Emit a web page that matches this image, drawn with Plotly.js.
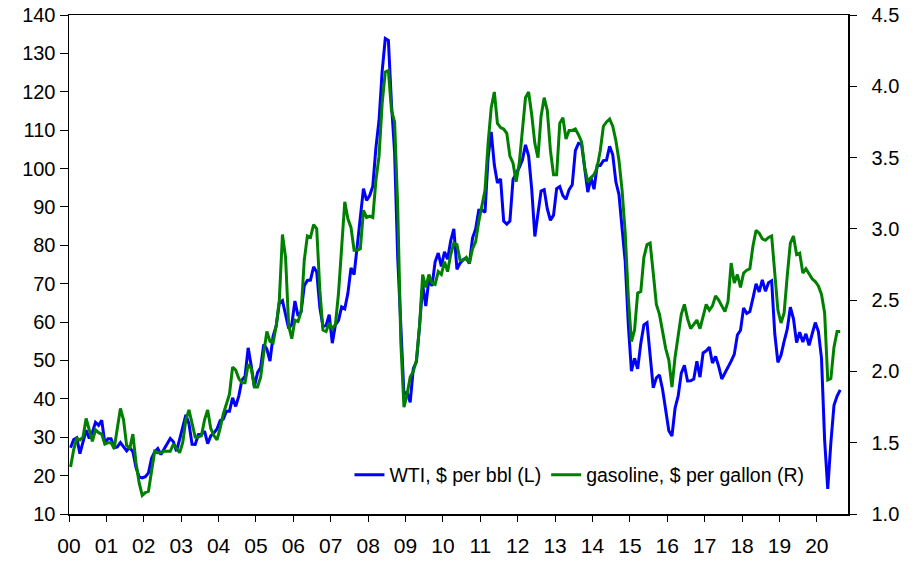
<!DOCTYPE html>
<html>
<head>
<meta charset="utf-8">
<script src="https://cdn.plot.ly/plotly-3.0.1.min.js"></script>
<style>
  html, body { margin: 0; padding: 0; background: #ffffff; }
  #chart { width: 921px; height: 562px; }
</style>
</head>
<body>
<div id="chart"></div>
<script>
// Monthly averages, Jan 2000 - Aug 2020 (one row per year)
const wti = [
  27.26, 29.37, 29.84, 25.72, 28.79, 31.82, 29.70, 31.26, 33.88, 33.11, 34.42, 28.44,
  29.59, 29.61, 27.25, 27.49, 28.63, 27.60, 26.43, 27.37, 26.20, 22.17, 19.64, 19.39,
  19.72, 20.72, 24.53, 26.18, 27.04, 25.52, 26.97, 28.39, 29.66, 28.84, 26.35, 29.46,
  32.95, 35.83, 33.51, 28.17, 28.11, 30.66, 30.75, 31.57, 28.31, 30.34, 31.11, 32.13,
  34.31, 34.69, 36.74, 36.75, 40.28, 38.03, 40.78, 44.90, 45.94, 53.28, 48.47, 43.15,
  46.84, 48.15, 54.19, 52.98, 49.83, 56.35, 59.00, 64.99, 65.59, 62.26, 58.32, 59.41,
  65.49, 61.63, 62.69, 69.44, 70.84, 70.95, 74.41, 73.04, 63.80, 58.89, 59.08, 61.96,
  54.51, 59.28, 60.44, 63.98, 63.46, 67.49, 74.12, 72.36, 79.92, 85.80, 94.77, 91.69,
  92.97, 95.39, 105.45, 112.58, 125.40, 133.88, 133.37, 116.67, 104.11, 76.61, 57.31, 41.12,
  41.71, 39.09, 47.94, 49.65, 59.03, 69.64, 64.15, 71.05, 69.41, 75.72, 77.99, 74.47,
  78.33, 76.39, 81.20, 84.29, 73.74, 75.34, 76.32, 76.60, 75.24, 81.89, 84.25, 89.15,
  89.17, 88.58, 102.86, 109.53, 100.90, 96.26, 97.30, 86.33, 85.52, 86.32, 97.16, 98.56,
  100.27, 102.20, 106.16, 103.32, 94.66, 82.30, 87.90, 94.13, 94.51, 89.49, 86.53, 87.86,
  94.76, 95.31, 92.94, 92.02, 94.51, 95.77, 104.67, 106.57, 106.29, 100.54, 93.86, 97.63,
  94.62, 100.82, 100.80, 102.07, 102.18, 105.79, 103.59, 96.54, 93.21, 84.40, 75.79, 59.29,
  47.22, 50.58, 47.82, 54.45, 59.27, 59.82, 50.90, 42.87, 45.48, 46.22, 42.44, 37.19,
  31.68, 30.32, 37.55, 40.75, 46.71, 48.76, 44.65, 44.72, 45.18, 49.78, 45.66, 51.97,
  52.50, 53.47, 49.33, 51.06, 48.48, 45.18, 46.63, 48.04, 49.82, 51.58, 56.64, 57.88,
  63.70, 62.23, 62.73, 66.25, 69.98, 67.87, 70.98, 68.06, 70.23, 70.75, 56.96, 49.52,
  51.38, 54.95, 58.15, 63.86, 60.83, 54.66, 57.35, 54.81, 56.95, 53.96, 57.03, 59.88,
  57.52, 50.54, 29.21, 16.55, 28.56, 38.31, 40.71, 42.34
];

const gasoline = [
  1.33, 1.45, 1.53, 1.52, 1.54, 1.67, 1.59, 1.51, 1.59, 1.57, 1.56, 1.49,
  1.50, 1.50, 1.46, 1.60, 1.74, 1.66, 1.48, 1.46, 1.56, 1.36, 1.22, 1.13,
  1.15, 1.16, 1.30, 1.44, 1.43, 1.43, 1.44, 1.44, 1.44, 1.49, 1.46, 1.43,
  1.50, 1.66, 1.73, 1.63, 1.54, 1.54, 1.55, 1.66, 1.73, 1.60, 1.55, 1.52,
  1.60, 1.70, 1.78, 1.84, 2.03, 2.01, 1.95, 1.92, 1.92, 2.05, 2.02, 1.89,
  1.89, 1.96, 2.13, 2.28, 2.21, 2.20, 2.32, 2.50, 2.96, 2.80, 2.32, 2.23,
  2.36, 2.35, 2.42, 2.78, 2.95, 2.94, 3.03, 3.00, 2.57, 2.29, 2.28, 2.34,
  2.30, 2.33, 2.55, 2.85, 3.19, 3.07, 3.01, 2.85, 2.85, 2.86, 3.13, 3.08,
  3.09, 3.08, 3.34, 3.51, 3.88, 4.10, 4.11, 3.83, 3.75, 3.15, 2.20, 1.75,
  1.84, 1.96, 2.00, 2.08, 2.32, 2.68, 2.59, 2.68, 2.62, 2.61, 2.70, 2.68,
  2.77, 2.70, 2.82, 2.90, 2.89, 2.78, 2.78, 2.80, 2.76, 2.86, 2.91, 3.05,
  3.15, 3.27, 3.60, 3.85, 3.96, 3.74, 3.71, 3.70, 3.67, 3.51, 3.46, 3.33,
  3.46, 3.72, 3.92, 3.96, 3.80, 3.60, 3.50, 3.79, 3.92, 3.83, 3.55, 3.38,
  3.38, 3.74, 3.78, 3.63, 3.69, 3.69, 3.70, 3.66, 3.61, 3.43, 3.33, 3.36,
  3.38, 3.43, 3.55, 3.72, 3.75, 3.77, 3.72, 3.62, 3.48, 3.27, 2.97, 2.52,
  2.21, 2.29, 2.55, 2.56, 2.80, 2.89, 2.90, 2.69, 2.47, 2.40, 2.27, 2.16,
  2.08, 1.89, 2.10, 2.25, 2.40, 2.47, 2.37, 2.30, 2.33, 2.36, 2.30, 2.39,
  2.47, 2.43, 2.46, 2.53, 2.50, 2.46, 2.42, 2.49, 2.76, 2.62, 2.68, 2.59,
  2.69, 2.71, 2.72, 2.88, 2.99, 2.97, 2.93, 2.92, 2.94, 2.95, 2.69, 2.43,
  2.34, 2.41, 2.67, 2.90, 2.95, 2.82, 2.83, 2.69, 2.72, 2.68, 2.65, 2.63,
  2.60, 2.54, 2.41, 1.94, 1.95, 2.17, 2.28, 2.28
];

const yearLabels = ['00','01','02','03','04','05','06','07','08','09','10',
                    '11','12','13','14','15','16','17','18','19','20'];

// Category-style month axis: each month sits in the middle of its slot,
// year ticks fall on January boundaries.
const monthSlots = 250;
const xs = wti.map((_, i) => i + 0.5);
const tickPos = yearLabels.map((_, i) => i * 12);

const baseFont = { family: 'Arial, "Liberation Sans", sans-serif', size: 20, color: '#000000' };

const traces = [
  {
    x: xs, y: wti, type: 'scatter', mode: 'lines',
    name: 'WTI, $ per bbl (L)',
    line: { color: '#0000ff', width: 3 },
    yaxis: 'y'
  },
  {
    x: xs, y: gasoline, type: 'scatter', mode: 'lines',
    name: 'gasoline, $ per gallon (R)',
    line: { color: '#008000', width: 3 },
    yaxis: 'y2'
  }
];

const layout = {
  width: 921, height: 562,
  margin: { l: 69, r: 73, t: 15, b: 48, pad: 0 },
  paper_bgcolor: '#ffffff',
  plot_bgcolor: '#ffffff',
  font: baseFont,
  showlegend: true,
  legend: {
    orientation: 'h',
    x: 0.36, xanchor: 'left',
    y: 0.078, yanchor: 'middle',
    bgcolor: 'rgba(0,0,0,0)',
    borderwidth: 0,
    font: { family: baseFont.family, size: 19.5, color: '#000000' },
    traceorder: 'normal'
  },
  xaxis: {
    type: 'linear',
    range: [0, monthSlots],
    tickmode: 'array',
    tickvals: tickPos,
    ticktext: yearLabels,
    ticks: 'outside', ticklen: 6, tickwidth: 1, tickcolor: '#000000',
    showline: true, linecolor: '#000000', linewidth: 1.5, mirror: true,
    showgrid: false, zeroline: false,
    ticklabelstandoff: 6,
    tickfont: { family: baseFont.family, size: 21, color: '#000000' }
  },
  yaxis: {
    range: [10, 140],
    tickmode: 'linear', tick0: 10, dtick: 10,
    ticks: 'outside', ticklen: 8, tickwidth: 1, tickcolor: '#000000',
    showline: true, linecolor: '#000000', linewidth: 1.5,
    showgrid: false, zeroline: false,
    tickfont: baseFont
  },
  yaxis2: {
    range: [1.0, 4.5],
    overlaying: 'y', side: 'right', anchor: 'x',
    tickmode: 'linear', tick0: 1.0, dtick: 0.5, tickformat: '.1f',
    ticks: 'outside', ticklen: 7, tickwidth: 1, tickcolor: '#000000',
    showline: true, linecolor: '#000000', linewidth: 1.5,
    showgrid: false, zeroline: false,
    ticklabelstandoff: 11,
    tickfont: baseFont
  },
  yaxis3: {
    range: [1.0, 4.5],
    overlaying: 'y', side: 'right', anchor: 'x',
    tickmode: 'linear', tick0: 1.0, dtick: 0.5,
    ticks: 'inside', ticklen: 7, tickwidth: 1, tickcolor: '#000000',
    showticklabels: false, showline: false,
    showgrid: false, zeroline: false
  }
};

Plotly.newPlot('chart', traces, layout, { displayModeBar: false, staticPlot: true });
</script>
</body>
</html>
